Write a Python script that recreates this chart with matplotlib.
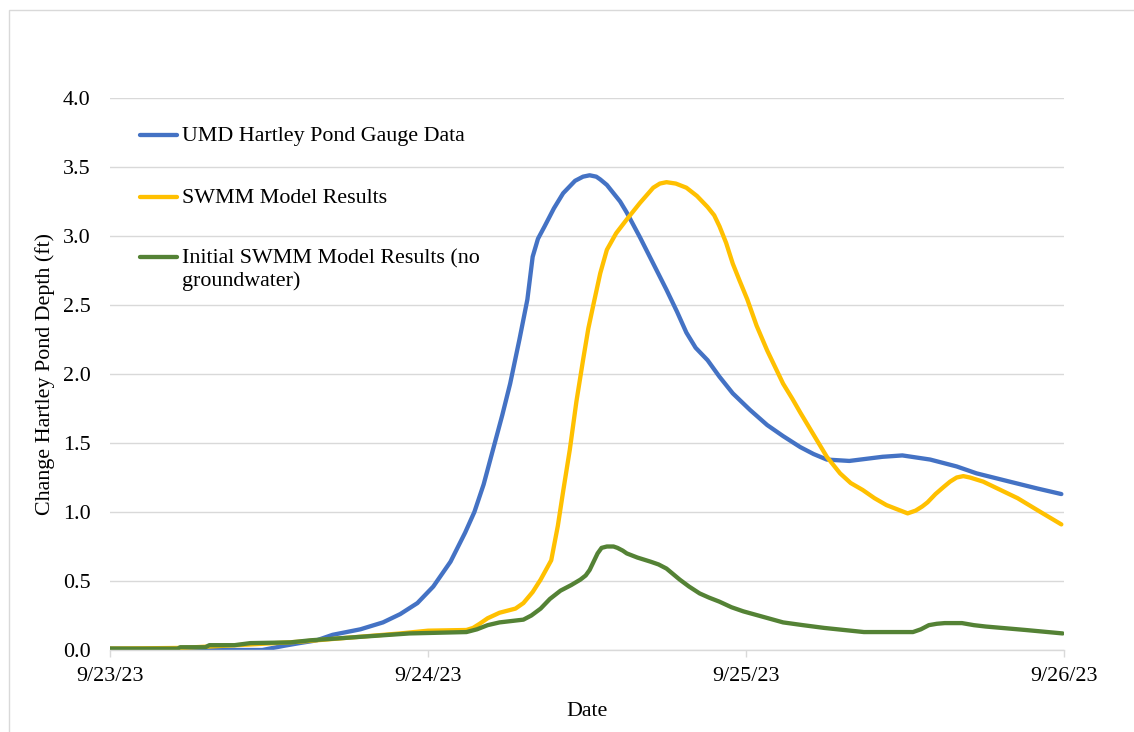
import matplotlib
matplotlib.use("Agg")
import matplotlib.pyplot as plt
from matplotlib.lines import Line2D
from matplotlib.patches import Rectangle
import pandas as pd

# ---------------- data (hours after 9/23/23 00:00, depth change in ft) ----------------
gauge_hours = [0, 6.8, 11.5, 13.1, 14.3, 15.6, 16.8, 18.9, 20.6, 21.9, 23.2, 24.4, 25.7,
               26.8, 27.5, 28.2, 28.9, 29.6, 30.2, 30.9, 31.5, 31.9, 32.3, 32.8, 33.5,
               34.2, 35.1, 35.7, 36.2, 36.7, 37.0, 37.5, 38.0, 38.5, 39.0, 39.5, 40.0,
               41.0, 42.0, 42.8, 43.5, 44.2, 45.1, 46.0, 47.0, 48.3, 49.6, 50.8, 52.1,
               53.1, 54.1, 55.8, 58.3, 59.8, 61.9, 63.9, 65.4, 67.9, 70.0, 71.8]
gauge_depth = [0.01, 0.0, 0.0, 0.03, 0.05, 0.07, 0.11, 0.15, 0.20, 0.26, 0.34, 0.46, 0.64,
               0.85, 1.00, 1.20, 1.45, 1.70, 1.93, 2.25, 2.54, 2.85, 2.98, 3.07, 3.20,
               3.31, 3.40, 3.43, 3.44, 3.43, 3.41, 3.37, 3.31, 3.25, 3.17, 3.08, 2.99,
               2.80, 2.61, 2.45, 2.30, 2.19, 2.10, 1.98, 1.86, 1.74, 1.63, 1.55, 1.47,
               1.42, 1.38, 1.37, 1.40, 1.41, 1.38, 1.33, 1.28, 1.22, 1.17, 1.13]

swmm_hours = [0, 5.3, 10.6, 14.3, 18.1, 21.9, 24.0, 26.9, 27.4, 27.9, 28.5, 29.4, 30.6,
              31.2, 31.9, 32.5, 33.3, 33.8, 34.2, 34.7, 35.2, 35.7, 36.1, 36.5, 37.0,
              37.5, 38.2, 39.0, 40.0, 41.0, 41.5, 42.0, 42.7, 43.5, 44.3, 45.1, 45.6,
              46.0, 46.5, 47.0, 47.5, 48.1, 48.8, 49.6, 50.2, 50.8, 51.5, 52.1, 53.1,
              54.1, 55.1, 55.9, 56.8, 57.7, 58.6, 59.4, 60.2, 60.8, 61.3, 61.7, 62.3,
              62.9, 63.4, 63.9, 64.4, 64.9, 65.9, 67.2, 68.5, 70.4, 71.8]
swmm_depth = [0.01, 0.015, 0.04, 0.06, 0.09, 0.12, 0.14, 0.145, 0.16, 0.19, 0.23, 0.27, 0.30,
              0.34, 0.42, 0.51, 0.65, 0.90, 1.15, 1.45, 1.80, 2.10, 2.33, 2.51, 2.73,
              2.90, 3.02, 3.12, 3.24, 3.35, 3.38, 3.39, 3.38, 3.35, 3.29, 3.21, 3.15,
              3.07, 2.95, 2.80, 2.68, 2.54, 2.35, 2.17, 2.05, 1.93, 1.82, 1.72, 1.56,
              1.40, 1.28, 1.21, 1.16, 1.10, 1.05, 1.02, 0.99, 1.01, 1.04, 1.07, 1.13,
              1.18, 1.22, 1.25, 1.26, 1.25, 1.22, 1.16, 1.10, 0.99, 0.91]

init_hours = [0, 5.1, 5.3, 7.2, 7.5, 9.4, 10.6, 13.6, 15.1, 18.1, 21.1, 22.6, 26.9, 27.7,
              28.5, 29.4, 31.2, 31.8, 32.5, 33.2, 34.0, 34.8, 35.5, 35.9, 36.2, 36.5,
              36.8, 37.1, 37.5, 38.0, 38.3, 38.7, 39.0, 39.8, 40.8, 41.4, 42.0, 42.5,
              43.0, 43.7, 44.5, 45.2, 46.0, 46.9, 47.8, 49.3, 50.8, 52.3, 53.9, 55.4,
              56.9, 60.6, 61.2, 61.8, 62.4, 63.0, 64.3, 65.2, 66.1, 69.1, 71.9]
init_depth = [0.01, 0.01, 0.02, 0.02, 0.035, 0.035, 0.05, 0.055, 0.07, 0.09, 0.11, 0.12,
              0.13, 0.15, 0.18, 0.20, 0.22, 0.25, 0.30, 0.37, 0.43, 0.47, 0.51, 0.54,
              0.58, 0.64, 0.70, 0.74, 0.75, 0.75, 0.74, 0.72, 0.70, 0.67, 0.64, 0.62,
              0.59, 0.55, 0.51, 0.46, 0.41, 0.38, 0.35, 0.31, 0.28, 0.24, 0.20, 0.18,
              0.16, 0.145, 0.13, 0.13, 0.15, 0.18, 0.19, 0.195, 0.195, 0.18, 0.17,
              0.145, 0.12]

series_labels = ["UMD Hartley Pond Gauge Data", "SWMM Model Results",
                 "Initial SWMM Model Results (no\ngroundwater)"]
tick_dates = ["2023-09-23", "2023-09-24", "2023-09-25", "2023-09-26"]
tick_labels = ["9/23/23", "9/24/23", "9/25/23", "9/26/23"]
y_ticks = [0.0, 0.5, 1.0, 1.5, 2.0, 2.5, 3.0, 3.5, 4.0]

# ---------------- styling ----------------
colors = ["#4472C4", "#FFC000", "#548235"]
W, H = 1134, 732
FS = 15.8
plt.rcParams["font.family"] = ["Liberation Serif", "DejaVu Serif"]

start = pd.Timestamp("2023-09-23")
def to_time(h):
    return start + pd.to_timedelta(h, unit="h")

fig = plt.figure(figsize=(W / 100, H / 100), dpi=100)
ax = fig.add_axes([110 / W, 1 - 650 / H, (1064 - 110) / W, (650 - 98) / H])

series = [(gauge_hours, gauge_depth), (swmm_hours, swmm_depth), (init_hours, init_depth)]
for (h, d), c, lab in zip(series, colors, series_labels):
    ax.plot(to_time(h), d, color=c, lw=3.1, solid_capstyle="round",
            solid_joinstyle="round", label=lab)

ax.set_ylim(0, 4.0)
ax.set_xlim(pd.Timestamp(tick_dates[0]), pd.Timestamp(tick_dates[-1]))
ax.set_yticks(y_ticks)
ax.set_yticklabels([f"{v:.1f}" for v in y_ticks])
ax.set_xticks([pd.Timestamp(t) for t in tick_dates])
ax.set_xticklabels(tick_labels)

ax.grid(axis="y", color="#D9D9D9", lw=1.0)
ax.set_axisbelow(True)
for s in ["top", "right", "left"]:
    ax.spines[s].set_visible(False)
ax.spines["bottom"].set_color("#D9D9D9")
ax.spines["bottom"].set_linewidth(1.0)

ax.tick_params(axis="y", length=0, pad=14, labelsize=FS, colors="black")
ax.tick_params(axis="x", length=5, width=1, color="#D9D9D9", pad=7, labelsize=FS,
               labelcolor="black")

ax.set_xlabel("Date", fontsize=FS)
ax.xaxis.set_label_coords(0.5, -(712 - 650) / 552)
ax.xaxis.label.set_va("center")
ax.set_ylabel("Change Hartley Pond Depth (ft)", fontsize=FS)
ax.yaxis.set_label_coords(-(110 - 45) / 954, 0.5)
ax.yaxis.label.set_va("center")

# legend drawn inside the plot area (Excel style)
leg_y = [135, 197, 257]
for y, c, lab in zip(leg_y, colors, series_labels):
    fig.add_artist(Line2D([140 / W, 177 / W], [1 - y / H, 1 - y / H], color=c, lw=3.1,
                          transform=fig.transFigure, solid_capstyle="round"))
    fig.text(182 / W, 1 - (y - 8) / H, lab, fontsize=FS, va="top", ha="left",
             linespacing=1.2)

# chart-area border
fig.add_artist(Rectangle((9 / W, -0.05), 1.2, 1.05 - 10 / H, transform=fig.transFigure,
                         fill=False, edgecolor="#D9D9D9", lw=1.0))

fig.savefig("out.png", dpi=100, facecolor="white")
